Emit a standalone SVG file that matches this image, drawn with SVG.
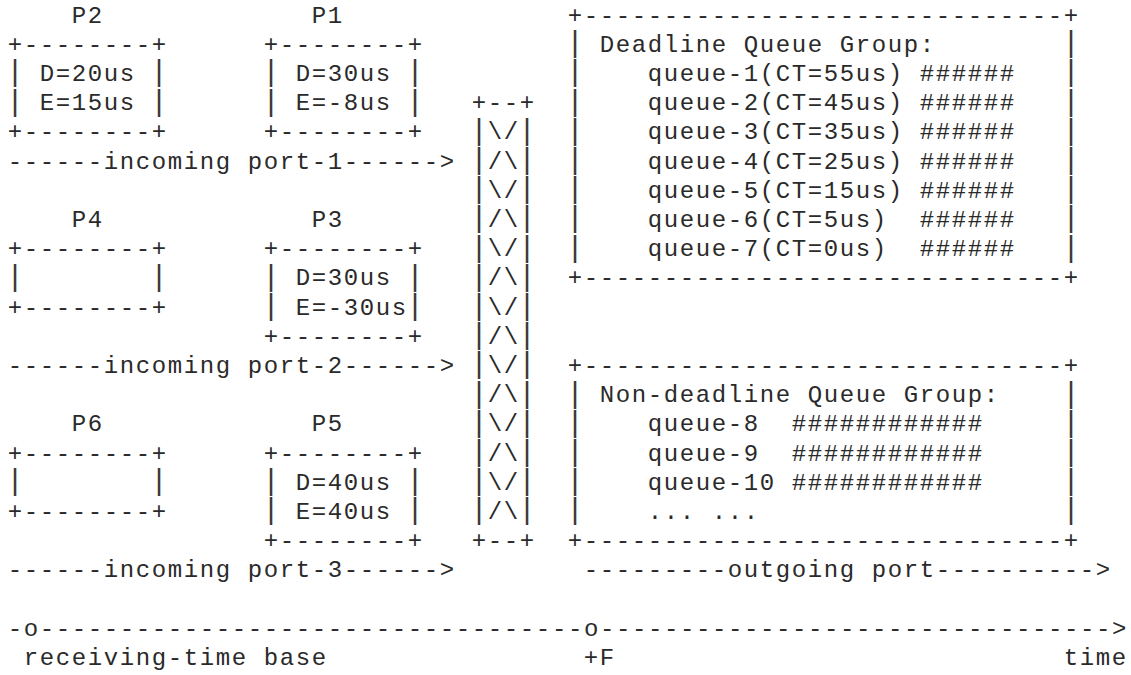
<svg xmlns="http://www.w3.org/2000/svg" width="1131" height="675" viewBox="0 0 1131 675">
<style>
text { font-family: "Liberation Mono", "Courier New", monospace; fill: #2a2a2a; }
.t { font-size: 24px; letter-spacing: 1.6px; }
.v { font-size: 30px; text-anchor: middle; fill: #3a3a3a; }
</style>
<rect width="1131" height="675" fill="#ffffff"/>

<g id="p2">
<text class="t" x="71.8" y="22.5">P2</text>
<text class="t" x="7.8" y="51.7">+--------+</text>
<text class="t" x="39.8" y="80.9">D=20us</text>
<text class="t" x="39.8" y="110.1">E=15us</text>
<text class="t" x="7.8" y="139.3">+--------+</text>
<text class="v" x="15 15" y="81.3 110.5">||</text>
<text class="v" x="159 159" y="81.3 110.5">||</text>
</g>

<g id="p1">
<text class="t" x="311.8" y="22.5">P1</text>
<text class="t" x="263.8" y="51.7">+--------+</text>
<text class="t" x="295.8" y="80.9">D=30us</text>
<text class="t" x="295.8" y="110.1">E=-8us</text>
<text class="t" x="263.8" y="139.3">+--------+</text>
<text class="v" x="271 271" y="81.3 110.5">||</text>
<text class="v" x="415 415" y="81.3 110.5">||</text>
</g>

<g id="p4">
<text class="t" x="71.8" y="226.9">P4</text>
<text class="t" x="7.8" y="256.1">+--------+</text>
<text class="t" x="7.8" y="314.5">+--------+</text>
<text class="v" x="15" y="285.7">|</text>
<text class="v" x="159" y="285.7">|</text>
</g>

<g id="p3">
<text class="t" x="311.8" y="226.9">P3</text>
<text class="t" x="263.8" y="256.1">+--------+</text>
<text class="t" x="295.8" y="285.3">D=30us</text>
<text class="t" x="295.8" y="314.5">E=-30us</text>
<text class="t" x="263.8" y="343.7">+--------+</text>
<text class="v" x="271 271" y="285.7 314.9">||</text>
<text class="v" x="415 415" y="285.7 314.9">||</text>
</g>

<g id="p6">
<text class="t" x="71.8" y="431.3">P6</text>
<text class="t" x="7.8" y="460.5">+--------+</text>
<text class="t" x="7.8" y="518.9">+--------+</text>
<text class="v" x="15" y="490.1">|</text>
<text class="v" x="159" y="490.1">|</text>
</g>

<g id="p5">
<text class="t" x="311.8" y="431.3">P5</text>
<text class="t" x="263.8" y="460.5">+--------+</text>
<text class="t" x="295.8" y="489.7">D=40us</text>
<text class="t" x="295.8" y="518.9">E=40us</text>
<text class="t" x="263.8" y="548.1">+--------+</text>
<text class="v" x="271 271" y="490.1 519.3">||</text>
<text class="v" x="415 415" y="490.1 519.3">||</text>
</g>

<g id="scheduler">
<text class="t" x="471.8" y="110.1">+--+</text>
<text class="t" x="471.8" y="548.1">+--+</text>
<text class="v" x="479 479 479 479 479 479 479 479 479 479 479 479 479 479" y="139.7 168.9 198.1 227.3 256.5 285.7 314.9 344.1 373.3 402.5 431.7 460.9 490.1 519.3">||||||||||||||</text>
<text class="v" x="527 527 527 527 527 527 527 527 527 527 527 527 527 527" y="139.7 168.9 198.1 227.3 256.5 285.7 314.9 344.1 373.3 402.5 431.7 460.9 490.1 519.3">||||||||||||||</text>
<text class="t" x="487.8" y="139.3">\/</text>
<text class="t" x="487.8" y="168.5">/\</text>
<text class="t" x="487.8" y="197.7">\/</text>
<text class="t" x="487.8" y="226.9">/\</text>
<text class="t" x="487.8" y="256.1">\/</text>
<text class="t" x="487.8" y="285.3">/\</text>
<text class="t" x="487.8" y="314.5">\/</text>
<text class="t" x="487.8" y="343.7">/\</text>
<text class="t" x="487.8" y="372.9">\/</text>
<text class="t" x="487.8" y="402.1">/\</text>
<text class="t" x="487.8" y="431.3">\/</text>
<text class="t" x="487.8" y="460.5">/\</text>
<text class="t" x="487.8" y="489.7">\/</text>
<text class="t" x="487.8" y="518.9">/\</text>
</g>

<g id="deadline-queue-group">
<text class="t" x="567.8" y="22.5">+------------------------------+</text>
<text class="t" x="599.8" y="51.7">Deadline Queue Group:</text>
<text class="t" x="647.8" y="80.9">queue-1(CT=55us)</text>
<text class="t" x="647.8" y="110.1">queue-2(CT=45us)</text>
<text class="t" x="647.8" y="139.3">queue-3(CT=35us)</text>
<text class="t" x="647.8" y="168.5">queue-4(CT=25us)</text>
<text class="t" x="647.8" y="197.7">queue-5(CT=15us)</text>
<text class="t" x="647.8" y="226.9">queue-6(CT=5us)</text>
<text class="t" x="647.8" y="256.1">queue-7(CT=0us)</text>
<text class="t" x="919.8" y="80.9">######</text>
<text class="t" x="919.8" y="110.1">######</text>
<text class="t" x="919.8" y="139.3">######</text>
<text class="t" x="919.8" y="168.5">######</text>
<text class="t" x="919.8" y="197.7">######</text>
<text class="t" x="919.8" y="226.9">######</text>
<text class="t" x="919.8" y="256.1">######</text>
<text class="t" x="567.8" y="285.3">+------------------------------+</text>
<text class="v" x="575 575 575 575 575 575 575 575" y="52.1 81.3 110.5 139.7 168.9 198.1 227.3 256.5">||||||||</text>
<text class="v" x="1071 1071 1071 1071 1071 1071 1071 1071" y="52.1 81.3 110.5 139.7 168.9 198.1 227.3 256.5">||||||||</text>
</g>

<g id="non-deadline-queue-group">
<text class="t" x="567.8" y="372.9">+------------------------------+</text>
<text class="t" x="599.8" y="402.1">Non-deadline Queue Group:</text>
<text class="t" x="647.8" y="431.3">queue-8</text>
<text class="t" x="647.8" y="460.5">queue-9</text>
<text class="t" x="647.8" y="489.7">queue-10</text>
<text class="t" x="791.8" y="431.3">############</text>
<text class="t" x="791.8" y="460.5">############</text>
<text class="t" x="791.8" y="489.7">############</text>
<text class="t" x="647.8" y="518.9">... ...</text>
<text class="t" x="567.8" y="548.1">+------------------------------+</text>
<text class="v" x="575 575 575 575 575" y="402.5 431.7 460.9 490.1 519.3">|||||</text>
<text class="v" x="1071 1071 1071 1071 1071" y="402.5 431.7 460.9 490.1 519.3">|||||</text>
</g>

<g id="connectors">
<text class="t" x="7.8" y="168.5">------incoming port-1------&gt;</text>
<text class="t" x="7.8" y="372.9">------incoming port-2------&gt;</text>
<text class="t" x="7.8" y="577.3">------incoming port-3------&gt;</text>
<text class="t" x="583.8" y="577.3">---------outgoing port----------&gt;</text>
<text class="t" x="7.8" y="635.7">-o----------------------------------o--------------------------------&gt;</text>
</g>

<g id="time-labels">
<text class="t" x="23.8" y="664.9">receiving-time base</text>
<text class="t" x="583.8" y="664.9">+F</text>
<text class="t" x="1063.8" y="664.9">time</text>
</g>
</svg>
